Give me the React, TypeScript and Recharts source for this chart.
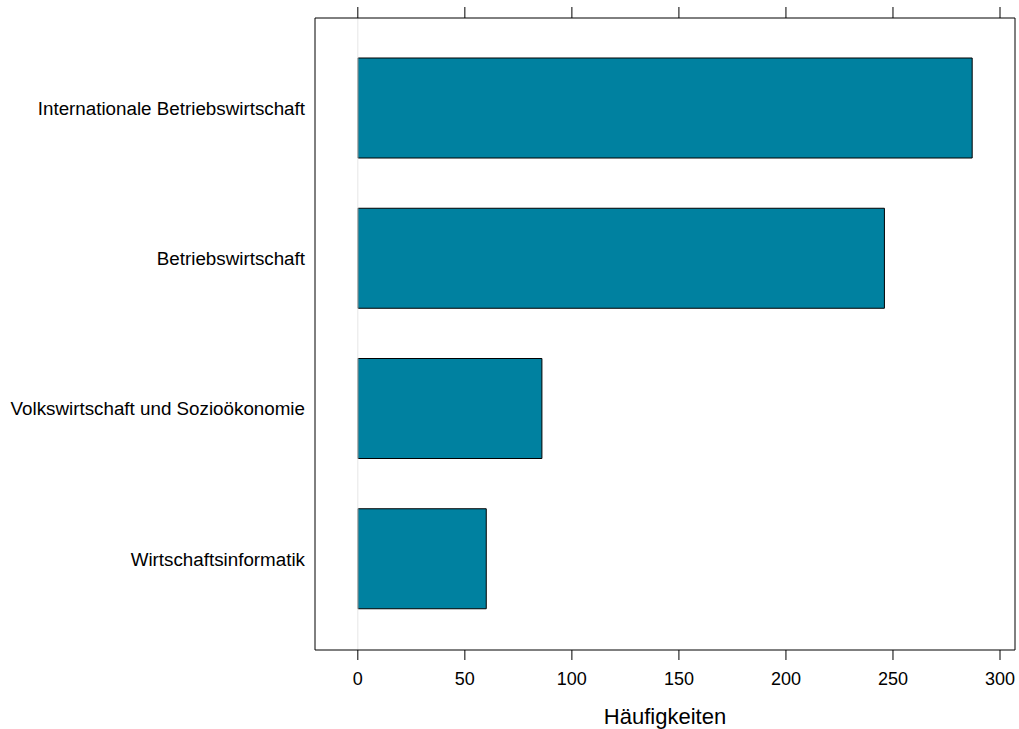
import React from "react";
import { Bar, ComposedChart, Line, ReferenceLine, XAxis, YAxis } from "recharts";

// Studiengänge und Häufigkeiten
const programmes = [
  "Internationale Betriebswirtschaft",
  "Betriebswirtschaft",
  "Volkswirtschaft und Sozioökonomie",
  "Wirtschaftsinformatik",
];
const counts = [287, 246, 86, 60];
const xTicks = [0, 50, 100, 150, 200, 250, 300];

const data = programmes.map((name, i) => ({ name, value: counts[i] }));

const FONT = '"Liberation Sans", Arial, Helvetica, sans-serif';

export default function App() {
  return (
    <div style={{ position: "absolute", left: 0, top: 0, background: "#fff" }}>
      <ComposedChart
        width={1019}
        height={729}
        data={data}
        layout="vertical"
        margin={{ top: 0, right: 4, bottom: 0, left: 0 }}
        style={{ fontFamily: FONT }}
      >
        <XAxis
          type="number"
          domain={[-20, 307]}
          ticks={xTicks}
          height={79}
          stroke="#000"
          tickSize={10}
          tickMargin={12}
          tick={{ fill: "#000", fontSize: 18 }}
          label={{
            value: "Häufigkeiten",
            position: "insideBottom",
            offset: 5,
            fontSize: 22,
            fill: "#000",
          }}
        />
        {/* top axis: tick marks only */}
        <XAxis
          xAxisId="top"
          orientation="top"
          type="number"
          domain={[-20, 307]}
          ticks={xTicks}
          interval={0}
          height={18}
          stroke="#000"
          tickSize={11}
          tickFormatter={() => ""}
        />
        <YAxis
          type="category"
          dataKey="name"
          width={315}
          stroke="#000"
          tickLine={false}
          tickMargin={4}
          padding={{ top: 15, bottom: 16 }}
          tick={{ fill: "#000", fontSize: 18.8 }}
        />
        <ReferenceLine x={0} stroke="#e6e6e6" />
        <ReferenceLine x={307} stroke="#000" />
        <Bar
          dataKey="value"
          barSize={100}
          fill="#0081a0"
          stroke="#000"
          strokeWidth={1}
          isAnimationActive={false}
        />
        {/* invisible series so the top axis gets its ticks */}
        <Line
          xAxisId="top"
          dataKey="value"
          stroke="none"
          dot={false}
          activeDot={false}
          isAnimationActive={false}
        />
      </ComposedChart>
    </div>
  );
}
